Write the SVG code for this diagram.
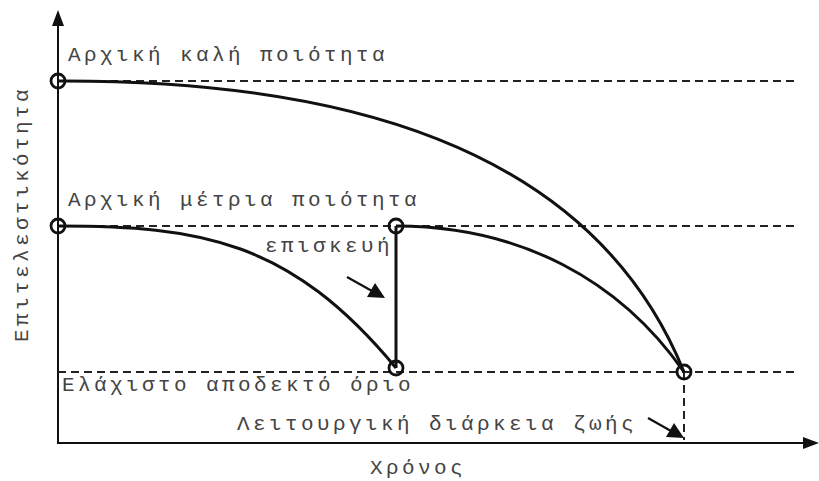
<svg xmlns="http://www.w3.org/2000/svg" width="819" height="481" viewBox="0 0 819 481">
<style>
.t{font-family:"Liberation Mono","DejaVu Sans Mono",monospace;font-size:21px;fill:#444;letter-spacing:3.4px}
.ax{stroke:#111;stroke-width:2;fill:none}
.cv{stroke:#111;stroke-width:3;fill:none}
.ds{stroke:#222;stroke-width:2;stroke-dasharray:8 5;fill:none}
.pt{stroke:#111;stroke-width:2.8;fill:none}
.ar{stroke:#111;stroke-width:2.2;fill:none}
</style>
<rect width="819" height="481" fill="#fff"/>
<g id="axes">
<line class="ax" x1="58" y1="24" x2="58" y2="443"/>
<polygon points="58,10 52,26 64,26" fill="#111"/>
<line class="ax" x1="57" y1="443" x2="806" y2="443"/>
<polygon points="819,443 803,437 803,449" fill="#111"/>
<text class="t" transform="translate(28,342) rotate(-90)">Επιτελεστικότητα</text>
<text class="t" x="370" y="474">Χρόνος</text>
</g>
<g id="connectors">
<line class="ds" x1="58" y1="81" x2="796" y2="81"/>
<line class="ds" x1="58" y1="226" x2="796" y2="226"/>
<line class="ds" x1="58" y1="372" x2="796" y2="372"/>
<line class="ds" x1="684" y1="372" x2="684" y2="440"/>
<path class="cv" d="M58,81 C330,80 590,140 684,372"/>
<path class="cv" d="M58,226 C200,226 290,240 396,368"/>
<line class="cv" x1="396" y1="226" x2="396" y2="368"/>
<path class="cv" d="M396,226 C520,226 620,280 684,372"/>
<line class="ar" x1="347" y1="277" x2="372" y2="291"/>
<polygon points="385,298 367,297 375,283" fill="#111"/>
<line class="ar" x1="648" y1="418" x2="671" y2="431"/>
<polygon points="684,438 666,437 674,423" fill="#111"/>
</g>
<g id="n1"><circle class="pt" cx="58" cy="81" r="7"/><text class="t" x="68" y="61">Αρχική καλή ποιότητα</text></g>
<g id="n2"><circle class="pt" cx="58" cy="226" r="7"/><text class="t" x="68" y="206">Αρχική μέτρια ποιότητα</text></g>
<g id="n3"><circle class="pt" cx="396" cy="226" r="7"/><text class="t" x="265" y="252">επισκευή</text></g>
<g id="n4"><circle class="pt" cx="396" cy="368" r="7"/><text class="t" x="62" y="391">Ελάχιστο αποδεκτό όριο</text></g>
<g id="n5"><circle class="pt" cx="684" cy="372" r="7"/><text class="t" x="237" y="430">Λειτουργική διάρκεια ζωής</text></g>
</svg>
